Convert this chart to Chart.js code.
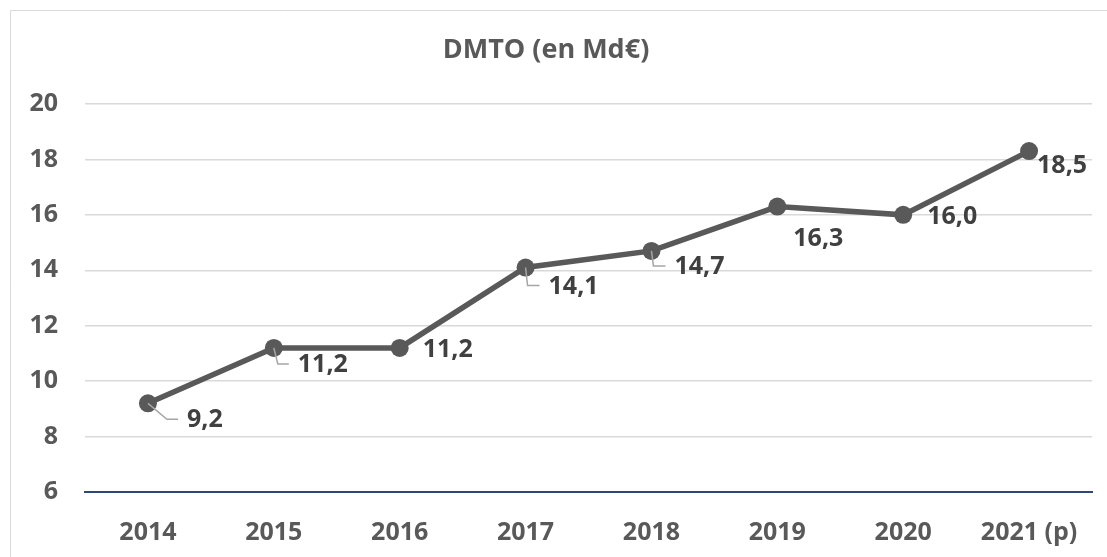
<!DOCTYPE html>
<html>
<head>
<meta charset="utf-8">
<script src="https://cdn.jsdelivr.net/npm/chart.js@4"></script>
<style>
  body { margin: 0; background: #fff; }
  canvas { display: block; }
</style>
</head>
<body>
<canvas id="dmtoChart" width="1107" height="557"></canvas>
<script>
// Data
const years = ['2014', '2015', '2016', '2017', '2018', '2019', '2020', '2021 (p)'];
const dmtoValues = [9.2, 11.2, 11.2, 14.1, 14.7, 16.3, 16.0, 18.3];
const dmtoLabels = ['9,2', '11,2', '11,2', '14,1', '14,7', '16,3', '16,0', '18,5'];
const yMin = 6;
const yMax = 20;
const yStep = 2;

// label placement relative to each point: [dx, dy, leader corner dx or null]
const labelPlacement = [
  [57, 17, 19], [49, 17, 4], [48, 2, null], [48, 19, 2],
  [48, 16, 2], [41, 32, null], [49, 2, null], [33, 15, null]
];

const FONT = '"Open Sans", "Liberation Sans", sans-serif';

// frame of the chart box
const framePlugin = {
  id: 'frame',
  beforeDraw(chart) {
    const ctx = chart.ctx;
    ctx.save();
    ctx.fillStyle = '#fff';
    ctx.fillRect(0, 0, chart.width, chart.height);
    ctx.strokeStyle = '#d9d9d9';
    ctx.lineWidth = 1;
    ctx.beginPath();
    ctx.moveTo(10.5, chart.height);
    ctx.lineTo(10.5, 10.5);
    ctx.lineTo(chart.width, 10.5);
    ctx.stroke();
    ctx.restore();
  }
};

// data labels with small leader lines
const valueLabelPlugin = {
  id: 'valueLabels',
  afterDatasetsDraw(chart) {
    const ctx = chart.ctx;
    const meta = chart.getDatasetMeta(0);
    ctx.save();
    ctx.font = 'bold 25px ' + FONT;
    meta.data.forEach((pt, i) => {
      const [dx, dy, corner] = labelPlacement[i];
      const x = pt.x + dx;
      const y = pt.y + dy;
      if (corner !== null) {
        const left = x - ctx.measureText(dmtoLabels[i]).width / 2;
        ctx.strokeStyle = '#a6a6a6';
        ctx.lineWidth = 1.5;
        ctx.beginPath();
        ctx.moveTo(pt.x, pt.y);
        ctx.lineTo(pt.x + corner, y - 1);
        ctx.lineTo(left - 9, y - 1);
        ctx.stroke();
      }
      ctx.fillStyle = '#404040';
      ctx.textAlign = 'center';
      ctx.textBaseline = 'middle';
      ctx.fillText(dmtoLabels[i], x, y);
    });
    ctx.restore();
  }
};

new Chart(document.getElementById('dmtoChart'), {
  type: 'line',
  data: {
    labels: years,
    datasets: [{
      data: dmtoValues,
      borderColor: '#595959',
      backgroundColor: '#595959',
      borderWidth: 5.5,
      pointRadius: 9,
      pointHoverRadius: 9,
      pointBackgroundColor: '#595959',
      pointBorderWidth: 0,
      tension: 0
    }]
  },
  options: {
    responsive: false,
    devicePixelRatio: 1,
    animation: false,
    layout: { padding: { left: 0, right: 15, top: 0, bottom: 0 } },
    plugins: {
      legend: { display: false },
      tooltip: { enabled: false },
      title: {
        display: true,
        text: 'DMTO (en Md€)',
        color: '#595959',
        font: { family: FONT, size: 27, weight: 'bold' },
        padding: { top: 34, bottom: 37.6 }
      }
    },
    scales: {
      x: {
        offset: true,
        grid: { display: false, drawTicks: false },
        border: { display: true, color: '#2f4775', width: 2 },
        ticks: {
          color: '#595959',
          font: { family: FONT, size: 25, weight: 'bold' },
          padding: 26,
          maxRotation: 0,
          autoSkip: false
        },
        afterFit(scale) { scale.height = 65; }
      },
      y: {
        min: yMin,
        max: yMax,
        grid: { color: '#d9d9d9', lineWidth: 1.5, drawTicks: false },
        border: { display: false },
        ticks: {
          stepSize: yStep,
          color: '#595959',
          font: { family: FONT, size: 25, weight: 'bold' },
          padding: 27
        },
        afterFit(scale) { scale.width = 85; }
      }
    }
  },
  plugins: [framePlugin, valueLabelPlugin]
});
</script>
</body>
</html>
